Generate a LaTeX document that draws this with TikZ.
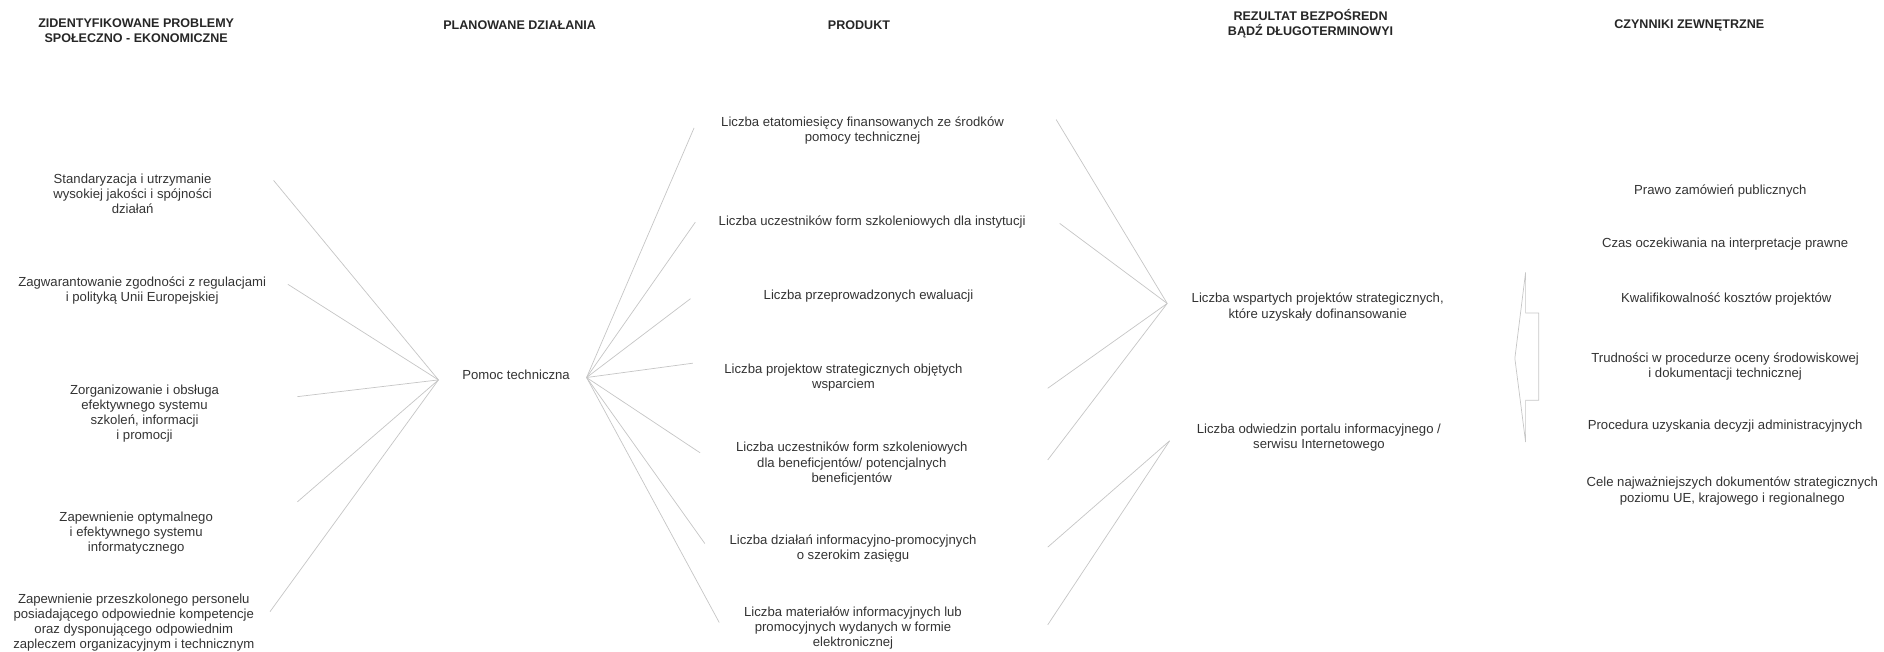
\documentclass[tikz,border=0pt]{standalone}
\usepackage{fontspec}
\setmainfont{Liberation Sans}
\definecolor{ink}{HTML}{333333}
\definecolor{wire}{HTML}{C6C6C6}

\begin{document}
\begin{tikzpicture}[x=1pt,y=-1pt,
      heading/.style={align=center, text=black!85, font=\bfseries\fontsize{10.5}{12.5}\selectfont},
      item/.style={align=center, text=ink, inner sep=1pt, font=\fontsize{11}{12.6}\selectfont},
      link/.style={draw=wire, line width=0.6pt}]

    \useasboundingbox (0,0) rectangle (1577,545);

    % headings
    \node[heading] (hproblemy)  at (114,25.5) {ZIDENTYFIKOWANE PROBLEMY\\SPOŁECZNO - EKONOMICZNE};
    \node[heading] (hdzialania) at (435,21)   {PLANOWANE DZIAŁANIA};
    \node[heading] (hprodukt)   at (719,21)   {PRODUKT};
    \node[heading] (hrezultat)  at (1097,20)  {REZULTAT BEZPOŚREDN\\BĄDŹ DŁUGOTERMINOWYI};
    \node[heading] (hczynniki)  at (1414,21)  {CZYNNIKI ZEWNĘTRZNE};

    % problemy
    \node[item] (prob1) at (111,162)   {Standaryzacja i utrzymanie\\wysokiej jakości i spójności\\działań};
    \node[item] (prob2) at (119,243.5) {Zagwarantowanie zgodności z regulacjami\\i polityką Unii Europejskiej};
    \node[item] (prob3) at (121,346.5) {Zorganizowanie i obsługa\\efektywnego systemu\\szkoleń, informacji\\i promocji};
    \node[item] (prob4) at (114,446)   {Zapewnienie optymalnego\\i efektywnego systemu\\informatycznego};
    \node[item] (prob5) at (112,521)   {Zapewnienie przeszkolonego personelu\\posiadającego odpowiednie kompetencje\\oraz dysponującego odpowiednim\\zapleczem organizacyjnym i technicznym};

    % dzialania
    \node[item] (pomoc) at (432,314) {Pomoc techniczna};

    % produkty
    \node[item] (prod1) at (722,109) {Liczba etatomiesięcy finansowanych ze środków\\pomocy technicznej};
    \node[item] (prod2) at (730,186) {Liczba uczestników form szkoleniowych dla instytucji};
    \node[item] (prod3) at (727,248) {Liczba przeprowadzonych ewaluacji};
    \node[item] (prod4) at (706,316) {Liczba projektow strategicznych objętych\\wsparciem};
    \node[item] (prod5) at (713,388) {Liczba uczestników form szkoleniowych\\dla beneficjentów/ potencjalnych\\beneficjentów};
    \node[item] (prod6) at (714,459) {Liczba działań informacyjno-promocyjnych\\o szerokim zasięgu};
    \node[item] (prod7) at (714,526) {Liczba materiałów informacyjnych lub\\promocyjnych wydanych w formie\\elektronicznej};

    % rezultaty
    \node[item] (rez1) at (1103,257) {Liczba wspartych projektów strategicznych,\\które uzyskały dofinansowanie};
    \node[item] (rez2) at (1104,366) {Liczba odwiedzin portalu informacyjnego /\\serwisu Internetowego};

    % czynniki zewnetrzne
    \node[item] (czyn1) at (1440,160) {Prawo zamówień publicznych};
    \node[item] (czyn2) at (1444,204) {Czas oczekiwania na interpretacje prawne};
    \node[item] (czyn3) at (1445,250) {Kwalifikowalność kosztów projektów};
    \node[item] (czyn4) at (1444,307) {Trudności w procedurze oceny środowiskowej\\i dokumentacji technicznej};
    \node[item] (czyn5) at (1444,357) {Procedura uzyskania decyzji administracyjnych};
    \node[item] (czyn6) at (1450,411) {Cele najważniejszych dokumentów strategicznych\\poziomu UE, krajowego i regionalnego};

    % line ends
    \coordinate (prob1e) at (229,151);
    \coordinate (prob2e) at (241,238);
    \coordinate (prob3e) at (249,332);
    \coordinate (prob4e) at (249,420);
    \coordinate (prob5e) at (226,512);
    \coordinate (pomocw) at (367,318);
    \coordinate (pomoce) at (491,316);
    \coordinate (prod1w) at (581,107);
    \coordinate (prod2w) at (582,186);
    \coordinate (prod3w) at (578,250);
    \coordinate (prod4w) at (580,304);
    \coordinate (prod5w) at (586,379);
    \coordinate (prod6w) at (590,455);
    \coordinate (prod7w) at (602,521);
    \coordinate (prod1e) at (884,100);
    \coordinate (prod2e) at (887,187);
    \coordinate (prod4e) at (877,325);
    \coordinate (prod5e) at (877,385);
    \coordinate (prod6e) at (877,458);
    \coordinate (prod7e) at (877,523);
    \coordinate (rez1w)  at (977,254);
    \coordinate (rez2w)  at (979,369);

    \draw[link] (prob1e) -- (pomocw);
    \draw[link] (prob2e) -- (pomocw);
    \draw[link] (prob3e) -- (pomocw);
    \draw[link] (prob4e) -- (pomocw);
    \draw[link] (prob5e) -- (pomocw);

    \draw[link] (pomoce) -- (prod1w);
    \draw[link] (pomoce) -- (prod2w);
    \draw[link] (pomoce) -- (prod3w);
    \draw[link] (pomoce) -- (prod4w);
    \draw[link] (pomoce) -- (prod5w);
    \draw[link] (pomoce) -- (prod6w);
    \draw[link] (pomoce) -- (prod7w);

    \draw[link] (prod1e) -- (rez1w);
    \draw[link] (prod2e) -- (rez1w);
    \draw[link] (prod4e) -- (rez1w);
    \draw[link] (prod5e) -- (rez1w);
    \draw[link] (prod6e) -- (rez2w);
    \draw[link] (prod7e) -- (rez2w);

    % arrow pointing at the results
    \draw[link] (1277,228) -- (1277,262) -- (1288,262) -- (1288,335) -- (1277,335)
      -- (1277,370) -- (1268,300) -- cycle;

  \end{tikzpicture}
\end{document}
